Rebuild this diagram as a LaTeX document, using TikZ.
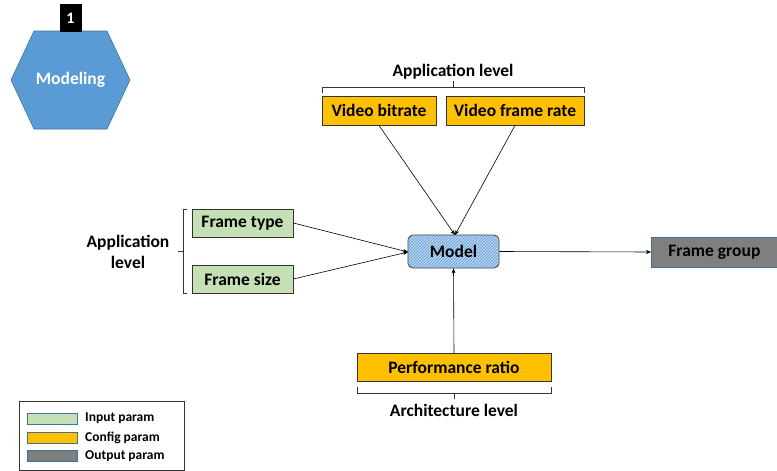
\documentclass[tikz,border=0pt]{standalone}
\usepackage{fontspec}
\setmainfont{Carlito}
\usetikzlibrary{arrows.meta,patterns,shapes.geometric}
\definecolor{cfg}{HTML}{FFC000}
\definecolor{inp}{HTML}{C5E0B4}
\definecolor{outp}{HTML}{7F7F7F}
\definecolor{hexb}{HTML}{5B9BD5}
\definecolor{hexd}{HTML}{41719C}
\definecolor{mdl}{HTML}{B8D3EE}
\tikzset{
  box/.style={draw=black!80, line width=0.8pt, font=\bfseries\fontsize{17.5}{20}\selectfont, inner sep=0pt},
  cfgbox/.style={box, fill=cfg},
  inbox/.style={box, fill=inp},
  outbox/.style={box, fill=outp, draw=hexd},
  conn/.style={-{Stealth[length=5pt,width=4pt]}, line width=0.6pt},
  brk/.style={line width=0.7pt, draw=black!80},
  lbl/.style={font=\bfseries\fontsize{17.5}{20}\selectfont, align=center},
  leg/.style={font=\bfseries\fontsize{13.5}{15}\selectfont, anchor=west, inner sep=0pt},
}
\begin{document}
\begin{tikzpicture}[x=1pt,y=-1pt]
\useasboundingbox (0,0) rectangle (777,471);
% hexagon
\draw[fill=hexb, draw=hexd, line width=0.6pt] (11,80) -- (34,31) -- (107,31) -- (130,80) -- (107,129) -- (34,129) -- cycle;
\node[font=\bfseries\fontsize{17.5}{20}\selectfont, text=white] (hex) at (70.5,80) {Modeling};
\node[fill=black, text=white, font=\bfseries\fontsize{16}{18}\selectfont, minimum width=22pt, minimum height=28pt, inner sep=0pt] (num) at (70.5,18) {1};
% top config boxes
\node[cfgbox, minimum width=114pt, minimum height=29pt] (vb) at (379,110.5) {Video bitrate};
\node[cfgbox, minimum width=138pt, minimum height=29pt] (vfr) at (515,110.5) {Video frame rate};
\draw[brk] (322,93) -- (322,87) -- (584,87) -- (584,93);
\draw[brk] (453,87) -- (453,81);
\node[lbl] (toplbl) at (453,72) {Application level};
% input boxes
\node[inbox, minimum width=101pt, minimum height=28pt] (ft) at (242.5,223) {Frame type};
\node[inbox, minimum width=101pt, minimum height=28pt] (fs) at (242.5,279) {Frame size};
\draw[brk] (187,209) -- (183,209) -- (183,293) -- (187,293);
\draw[brk] (183,251) -- (178,251);
\node[lbl, text width=100pt, font=\bfseries\fontsize{17.5}{21}\selectfont] (leftlbl) at (128,252) {Application\\level};
% model
\node[box, rounded corners=5pt, minimum width=91pt, minimum height=33pt, fill=mdl,
      postaction={pattern=north east lines, pattern color=hexb}] (model) at (453.5,251.5) {Model};
% output
\node[outbox, minimum width=126pt, minimum height=30pt, anchor=west] (fg) at (651,252) {Frame group};
% performance ratio
\node[cfgbox, minimum width=194pt, minimum height=28pt] (pr) at (454,367.5) {Performance ratio};
\draw[brk] (357,387) -- (357,393) -- (551,393) -- (551,387);
\draw[brk] (454,393) -- (454,399);
\node[lbl] (botlbl) at (454,410) {Architecture level};
% connectors
\coordinate (mt) at (455,235);
\draw[conn] (vb.south) -- (mt);
\draw[conn] (vfr.south) -- (mt);
\coordinate (ml) at (408,252);
\draw[conn] (ft.east) -- (ml);
\draw[conn] (fs.east) -- (ml);
\draw[conn] (model.east) -- (fg.west);
\draw[conn] (pr.north) -- (model.south);
% legend
\node[draw=black!80, line width=0.6pt, minimum width=165pt, minimum height=69pt, inner sep=0pt] (legbox) at (101.5,435.5) {};
\node[draw=hexd, fill=inp, minimum width=50pt, minimum height=11pt, inner sep=0pt] (l1) at (52,418.5) {};
\node[draw=hexd, fill=cfg, minimum width=50pt, minimum height=11pt, inner sep=0pt] (l2) at (52,437.5) {};
\node[draw=hexd, fill=outp, minimum width=50pt, minimum height=11pt, inner sep=0pt] (l3) at (52,456) {};
\node[leg] (t1) at (85,418.5) {Input param};
\node[leg] (t2) at (85,437.5) {Config param};
\node[leg] (t3) at (85,456) {Output param};
\end{tikzpicture}
\end{document}
